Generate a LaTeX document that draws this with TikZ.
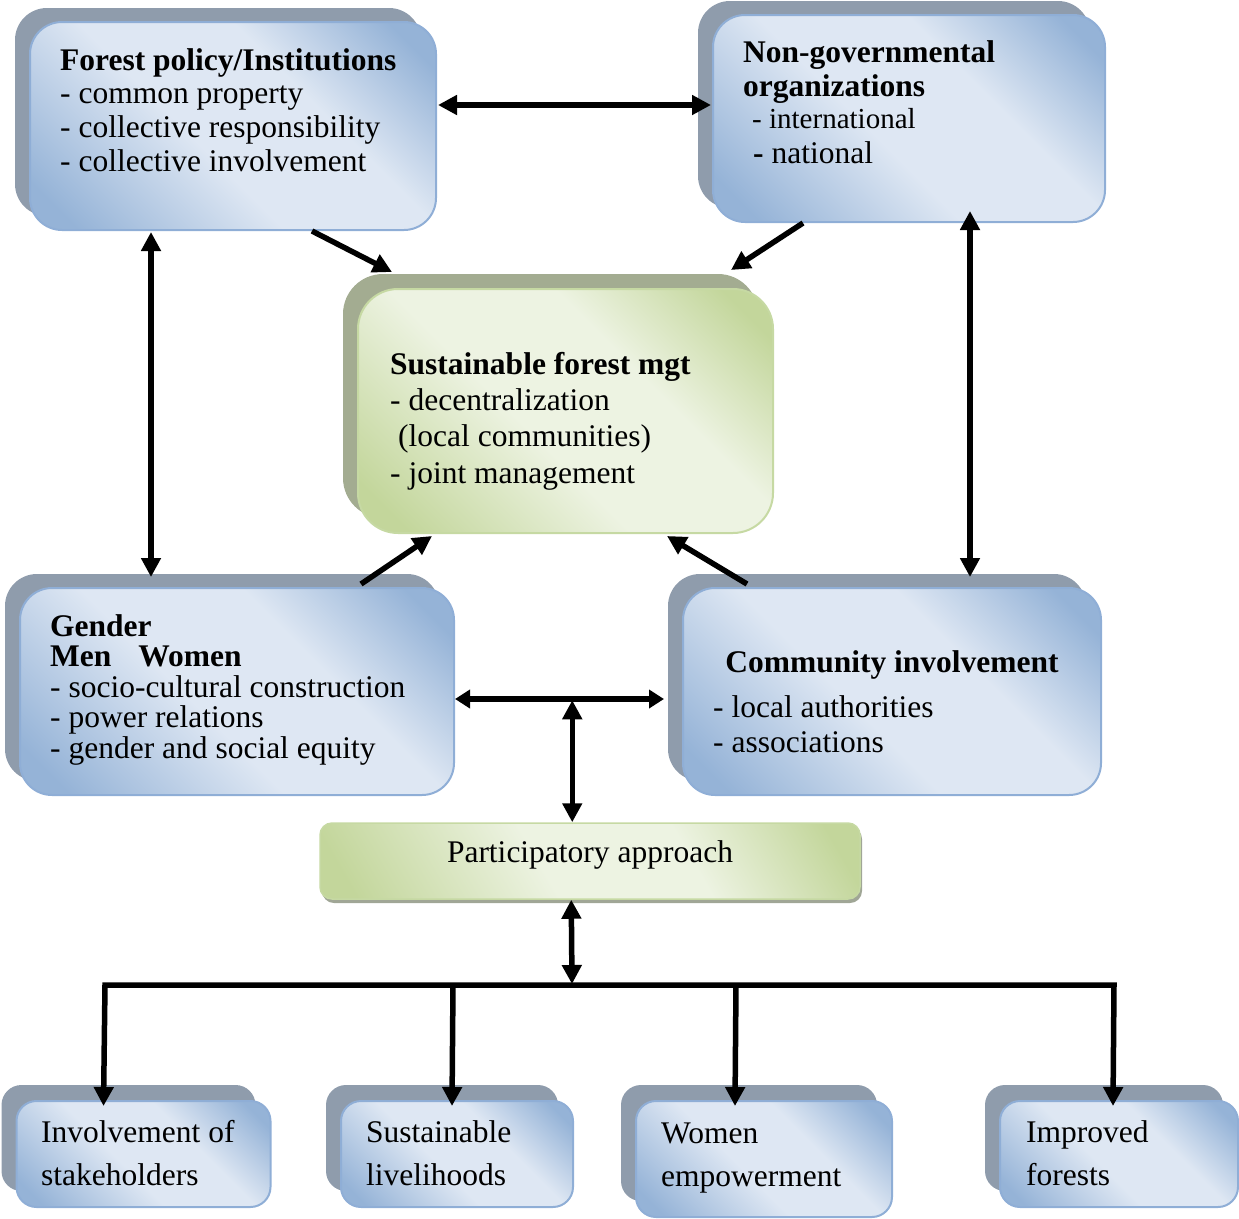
\documentclass[tikz,border=0pt]{standalone}
\usepackage{fontspec}
\setmainfont{Liberation Serif}
\usetikzlibrary{arrows.meta,shadows,calc}
\definecolor{bL}{RGB}{222,231,243}
\definecolor{bD}{RGB}{149,179,215}
\definecolor{bB}{RGB}{143,174,214}
\definecolor{bK}{RGB}{143,156,172}
\definecolor{gL}{RGB}{237,243,226}
\definecolor{gD}{RGB}{195,214,155}
\definecolor{gB}{RGB}{198,217,163}
\definecolor{gK}{RGB}{163,172,145}
\definecolor{pK}{RGB}{160,166,150}
\pgfdeclarehorizontalshading{bsh}{100bp}{color(0bp)=(bD); color(20bp)=(bD); color(44bp)=(bL); color(62bp)=(bL); color(80bp)=(bD); color(100bp)=(bD)}
\pgfdeclarehorizontalshading{gsh}{100bp}{color(0bp)=(gD); color(20bp)=(gD); color(44bp)=(gL); color(62bp)=(gL); color(80bp)=(gD); color(100bp)=(gD)}
\tikzset{
  bluebox/.style={draw=bB, line width=2pt, rounded corners=#1, shading=bsh, shading angle=45,
    inner sep=0pt, general shadow={fill=bK, draw=none, shadow xshift=-15pt, shadow yshift=14pt}},
  bluebox/.default=32pt,
  smallbox/.style={draw=bB, line width=2pt, rounded corners=20pt, shading=bsh, shading angle=45,
    inner sep=0pt, general shadow={fill=bK, draw=none, shadow xshift=-15pt, shadow yshift=16pt}},
  greenbox/.style={draw=gB, line width=2pt, rounded corners=40pt, shading=gsh, shading angle=45,
    inner sep=0pt, general shadow={fill=gK, draw=none, shadow xshift=-15pt, shadow yshift=15pt}},
  pabox/.style={draw=gB, line width=1.5pt, rounded corners=12pt, shading=gsh, shading angle=30,
    inner sep=0pt, general shadow={fill=pK, draw=none, shadow xshift=2pt, shadow yshift=-4pt}},
  txt/.style={inner sep=0pt, anchor=north west, align=left, font=\fontsize{31.5}{#1}\selectfont},
  txt/.default=33.7,
  one/.style={inner sep=0pt, anchor=base west, font=\fontsize{31.5}{36}\selectfont},
  arr/.style={line width=5.5pt, -{Triangle[length=19pt,width=19pt]}},
  darr/.style={line width=5.5pt, {Triangle[length=19pt,width=19pt]}-{Triangle[length=19pt,width=19pt]}},
  sdarr/.style={line width=5.5pt, {Triangle[length=15pt,width=18pt]}-{Triangle[length=15pt,width=18pt]}}
}
\begin{document}
\begin{tikzpicture}[x=1pt,y=-1pt]
\useasboundingbox (0,0) rectangle (1239,1218);
% boxes
\node[bluebox, minimum width=406pt, minimum height=208pt] (fp) at (233,126) {};
\node[bluebox, minimum width=392pt, minimum height=207pt] (ngo) at (909,118.5) {};
\node[greenbox, minimum width=415pt, minimum height=244pt] (sfm) at (565.5,411) {};
\node[bluebox, minimum width=434pt, minimum height=207pt] (gen) at (237,691.5) {};
\node[bluebox, minimum width=418pt, minimum height=207pt] (com) at (892,691.5) {};
\node[pabox, minimum width=540pt, minimum height=76pt] (pa) at (590,861) {};
\node[smallbox, minimum width=254pt, minimum height=106pt] (b1) at (143.5,1154) {};
\node[smallbox, minimum width=232pt, minimum height=106pt] (b2) at (457,1154) {};
\node[smallbox, minimum width=256pt, minimum height=116pt] (b3) at (764,1159) {};
\node[smallbox, minimum width=238pt, minimum height=106pt] (b4) at (1119,1154) {};
% texts
\node[txt=33.7] (fpt) at (60,46) {\rule{0pt}{24pt}\textbf{Forest policy/Institutions}\\- common property\\- collective responsibility\\- collective involvement};
\node[txt=34] (ngot) at (743,38) {\rule{0pt}{24pt}\textbf{Non-governmental}\\\textbf{organizations}};
\node[one, font=\fontsize{29}{34}\selectfont] (ngoi) at (752,128) {- international};
\node[one] (ngon) at (753,163) {\textbf{-} national};
\node[txt=36.3] (sfmt) at (390,350) {\rule{0pt}{24pt}\textbf{Sustainable forest mgt}\\- decentralization\\\hspace*{8pt}(local communities)\\- joint management};
\node[txt=30.5] (gent) at (50,612) {\rule{0pt}{24pt}\textbf{Gender}\\\textbf{Men}\hspace{27pt}\textbf{Women}\\- socio-cultural construction\\- power relations\\- gender and social equity};
\node[inner sep=0pt, anchor=base, font=\fontsize{31.5}{36}\selectfont\bfseries] (comt) at (892,672) {Community involvement};
\node[txt=35] (coml) at (713,693) {\rule{0pt}{24pt}- local authorities\\- associations};
\node[inner sep=0pt, anchor=base, font=\fontsize{31.5}{36}\selectfont] (pat) at (590,862) {Participatory approach};
\node[txt=43] (b1t) at (41,1118) {\rule{0pt}{24pt}Involvement of\\stakeholders};
\node[txt=43] (b2t) at (366,1118) {\rule{0pt}{24pt}Sustainable\\livelihoods};
\node[txt=43] (b3t) at (661,1119) {\rule{0pt}{24pt}Women\\empowerment};
\node[txt=43] (b4t) at (1026,1118) {\rule{0pt}{24pt}Improved\\forests};
% connectors
\draw[darr] ($(fp.east)+(1,-21)$) -- ($(ngo.west)+(-1,-13.5)$);
\draw[arr] ($(fp.south west)+(283,0)$) -- ($(sfm.north west)+(35,-16)$);
\draw[arr] ($(ngo.south west)+(91,0)$) -- ($(sfm.north east)+(-43,-18)$);
\draw[darr] ($(fp.south west)+(122,1)$) -- ($(gen.north west)+(132,-10)$);
\draw[darr] ($(ngo.south west)+(258,-12)$) -- ($(com.north west)+(288,-10)$);
\draw[arr] ($(gen.north west)+(342,-3)$) -- ($(sfm.south west)+(75,2)$);
\draw[arr] ($(com.north west)+(65,-3)$) -- ($(sfm.south west)+(310,2)$);
\draw[sdarr] ($(gen.east)+(0,7.5)$) -- ($(com.west)+(-18,7.5)$);
\coordinate (j) at ($(pa.north west)+(253,-122)$);
\draw[darr] (j) -- ($(pa.north west)+(253,0)$);
\coordinate (bm) at (572,984);
\coordinate (c1) at (105,985);
\coordinate (c2) at (453,985);
\coordinate (c3) at (736,985);
\coordinate (c4) at (1114,985);
\draw[darr] ($(pa.south west)+(252,0)$) -- (bm);
\draw[darr, line join=miter] ($(b1.north west)+(88,6)$) -- (c1) -- (c4) -- ($(b4.north west)+(114,6)$);
\draw[arr] (c2) -- ($(b2.north west)+(112,6)$);
\draw[arr] (c3) -- ($(b3.north west)+(100,6)$);
\end{tikzpicture}
\end{document}
